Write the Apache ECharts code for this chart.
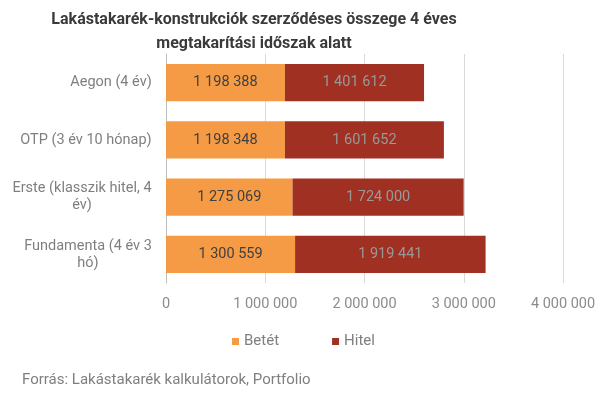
<!DOCTYPE html>
<html>
<head>
<meta charset="utf-8">
<script src="https://cdn.jsdelivr.net/npm/echarts@6/dist/echarts.min.js"></script>
<style>
	html, body { margin: 0; padding: 0; background: #fff; }
	#chart { width: 605px; height: 397px; }
</style>
</head>
<body>
<div id="chart"></div>
<script>
	// konstrukciók
	var categories = ['Aegon (4 év)', 'OTP (3 év 10 hónap)', 'Erste (klasszik hitel, 4 év)', 'Fundamenta (4 év 3 hó)'];
	var betet = [1198388, 1198348, 1275069, 1300559];
	var hitel = [1401612, 1601652, 1724000, 1919441];

	function fmt(v) {
		return String(v).replace(/\B(?=(\d{3})+(?!\d))/g, ' ');
	}

	// tengelyfelirat tördelése, sorok középre igazítva (mint Excelben)
	var ctx = document.createElement('canvas').getContext('2d');
	ctx.font = '14.5px Roboto';
	var maxW = 146;
	function wrapLabel(txt) {
		var words = txt.split(' ');
		var lines = [];
		var cur = '';
		words.forEach(function(w) {
			var t = cur ? cur + ' ' + w : w;
			if (cur && ctx.measureText(t).width > maxW) {
				lines.push(cur);
				cur = w;
			} else {
				cur = t;
			}
		});
		lines.push(cur);
		var w = 0;
		lines.forEach(function(l) { w = Math.max(w, ctx.measureText(l).width); });
		return { lines: lines, width: Math.ceil(w) };
	}

	var rich = {};
	var labelMap = {};
	categories.forEach(function(c, i) {
		var r = wrapLabel(c);
		rich['c' + i] = { width: r.width, align: 'center', color: '#7f7f7f', fontSize: 14.5, lineHeight: 17 };
		labelMap[c] = r.lines.map(function(l) { return '{c' + i + '|' + l + '}'; }).join('\n');
	});

	var myChart = echarts.init(document.getElementById('chart'));
	var option = {
		textStyle: { fontFamily: 'Roboto' },
		legend: {
			left: 227,
			top: 329,
			itemWidth: 7,
			itemHeight: 7,
			itemGap: 53,
			icon: 'rect',
			textStyle: { color: '#7f7f7f', fontSize: 15 },
			data: ['Betét', 'Hitel']
		},
		graphic: [{
			type: 'text',
			x: 254,
			y: 8,
			style: {
				text: 'Lakástakarék-konstrukciók szerződéses összege 4 éves\nmegtakarítási időszak alatt',
				align: 'center',
				fill: '#3a3a3a',
				font: 'bold 16px Roboto',
				lineHeight: 24
			}
		}, {
			type: 'text',
			left: 22,
			top: 373,
			style: {
				text: 'Forrás: Lakástakarék kalkulátorok, Portfolio',
				fill: '#7f7f7f',
				font: '15px Roboto'
			}
		}],
		grid: {
			left: 166,
			right: 42,
			top: 54,
			bottom: 114
		},
		xAxis: {
			type: 'value',
			min: 0,
			max: 4000000,
			interval: 1000000,
			axisLine: { show: false },
			axisTick: { show: false },
			splitLine: { lineStyle: { color: '#d9d9d9' } },
			axisLabel: {
				color: '#8c8c8c',
				fontSize: 14.5,
				margin: 14,
				formatter: fmt
			}
		},
		yAxis: {
			type: 'category',
			inverse: true,
			data: categories,
			axisLine: { show: true, lineStyle: { color: '#bfbfbf' } },
			axisTick: { show: false },
			axisLabel: {
				color: '#7f7f7f',
				fontSize: 14.5,
				margin: 14,
				align: 'right',
				formatter: function(v) { return labelMap[v]; },
				rich: rich
			}
		},
		series: [{
			name: 'Betét',
			type: 'bar',
			stack: 'total',
			barWidth: '65%',
			data: betet,
			color: '#f59b45',
			label: {
				show: true,
				position: 'inside',
				color: '#404040',
				fontSize: 14.5,
				formatter: function(p) { return fmt(p.value); }
			}
		}, {
			name: 'Hitel',
			type: 'bar',
			stack: 'total',
			data: hitel,
			color: '#a03022',
			label: {
				show: true,
				position: 'inside',
				color: '#999999',
				fontSize: 14.5,
				formatter: function(p) { return fmt(p.value); }
			}
		}]
	};
	myChart.setOption(option);
</script>
</body>
</html>
